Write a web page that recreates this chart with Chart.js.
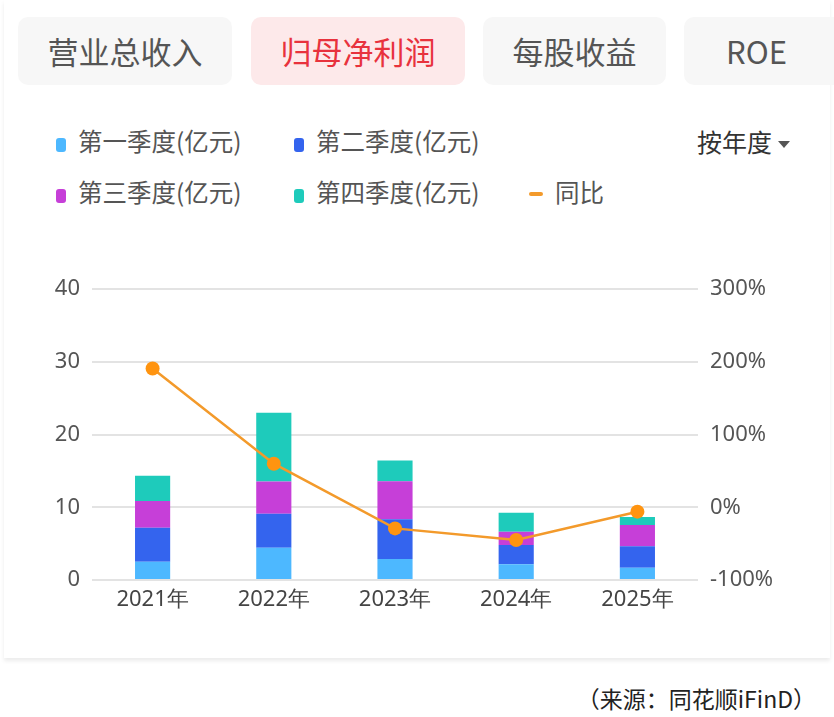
<!DOCTYPE html>
<html>
<head>
<meta charset="utf-8">
<script src="https://cdn.jsdelivr.net/npm/chart.js@4.4.1/dist/chart.umd.min.js"></script>
<style>
  body { margin: 0; width: 834px; height: 717px; background: #fff; overflow: hidden;
         font-family: "Noto Sans CJK SC", "Noto Sans", sans-serif; position: relative; }
  .card { position: absolute; left: 4px; top: 0; width: 826px; height: 658px; background: #fff;
          box-shadow: 0 3px 4px rgba(0,0,0,0.08); }
  .tab { position: absolute; top: 17px; height: 68px; border-radius: 10px; background: #f7f7f7;
         color: #555; font-size: 31px; line-height: 68px; text-align: center; }
  .tab.on { background: #fde9ea; color: #e8323d; }
  .lg { position: absolute; font-size: 24.5px; color: #555; line-height: 30px; white-space: nowrap; }
  .lg i { display: inline-block; width: 10px; height: 14px; border-radius: 3px; margin-right: 12px; vertical-align: -1px; }
  .lg i.ln { width: 14px; height: 4px; border-radius: 2px; vertical-align: 6px; }
  .sel { position: absolute; left: 697px; top: 126px; font-size: 25px; color: #333; line-height: 30px; }
  .sel span { display: inline-block; width: 0; height: 0; border-left: 6px solid transparent;
              border-right: 6px solid transparent; border-top: 7px solid #555; margin-left: 6px; vertical-align: 4px; }
  #wrap { position: absolute; left: 0; top: 264px; width: 834px; height: 353px; }
  .src { position: absolute; right: 18px; top: 681px; font-size: 23px; color: #222; }
</style>
</head>
<body>
<div class="card"></div>
<div class="tab" style="left:18px;width:214px">营业总收入</div>
<div class="tab on" style="left:251px;width:214px">归母净利润</div>
<div class="tab" style="left:483px;width:183px">每股收益</div>
<div class="tab" style="left:684px;width:170px;text-align:left;padding-left:42px;box-sizing:border-box">ROE</div>

<div class="lg" style="left:56px;top:126px"><i style="background:#4db8ff"></i>第一季度(亿元)</div>
<div class="lg" style="left:294px;top:126px"><i style="background:#3464ee"></i>第二季度(亿元)</div>
<div class="lg" style="left:56px;top:177px"><i style="background:#c63fd8"></i>第三季度(亿元)</div>
<div class="lg" style="left:294px;top:177px"><i style="background:#1ecbbb"></i>第四季度(亿元)</div>
<div class="lg" style="left:529px;top:177px"><i class="ln" style="background:#f39a2b"></i>同比</div>
<div class="sel">按年度<span></span></div>

<div id="wrap"><canvas id="grafico"></canvas></div>
<div class="src">（来源：同花顺iFinD）</div>

<script>
// valores
const years = ['2021年', '2022年', '2023年', '2024年', '2025年'];
const q1 = [2.5, 4.45, 2.9, 2.15, 1.7];
const q2 = [4.7, 4.65, 5.45, 2.65, 2.95];
const q3 = [3.65, 4.45, 5.25, 1.85, 2.9];
const q4 = [3.5, 9.45, 2.85, 2.6, 1.1];
const yoy = [191, 60, -29, -45, -6];
const leftTicks = [0, 10, 20, 30, 40];
const rightTicks = [-100, 0, 100, 200, 300];

const tickFont = { family: '"Noto Sans", sans-serif', size: 22 };

const barSet = (label, data, color) => ({
    type: 'bar', label, data, backgroundColor: color, stack: 's', yAxisID: 'y',
    barPercentage: 0.29, categoryPercentage: 1, order: 2
});

new Chart(document.getElementById('grafico').getContext('2d'), {
    data: {
        labels: years,
        datasets: [
            {
                type: 'line', label: '同比', data: yoy, yAxisID: 'y1',
                borderColor: '#f39a2b', borderWidth: 2.5, tension: 0,
                pointRadius: 7, pointBackgroundColor: '#ff9410', pointBorderWidth: 0, order: 1
            },
            barSet('第一季度(亿元)', q1, '#4db8ff'),
            barSet('第二季度(亿元)', q2, '#3464ee'),
            barSet('第三季度(亿元)', q3, '#c63fd8'),
            barSet('第四季度(亿元)', q4, '#1ecbbb')
        ]
    },
    options: {
        responsive: true,
        maintainAspectRatio: false,
        animation: false,
        layout: { padding: { top: 12, left: 0, right: 0, bottom: 0 } },
        plugins: { legend: { display: false }, tooltip: { enabled: false } },
        scales: {
            x: {
                stacked: true,
                grid: { display: false, drawTicks: false },
                border: { display: false },
                ticks: { color: '#444', font: { family: '"Noto Sans", sans-serif', size: 22 }, padding: 7 },
                afterFit: s => { s.height = 37; }
            },
            y: {
                stacked: true, min: 0, max: 40, position: 'left',
                afterBuildTicks: s => { s.ticks = leftTicks.map(v => ({ value: v })); },
                grid: { color: '#e3e3e3', lineWidth: 2, drawTicks: false },
                border: { display: false },
                ticks: { color: '#555', font: tickFont, padding: 12 },
                afterFit: s => { s.width = 92; }
            },
            y1: {
                min: -100, max: 300, position: 'right',
                afterBuildTicks: s => { s.ticks = rightTicks.map(v => ({ value: v })); },
                grid: { display: false, drawTicks: false },
                border: { display: false },
                ticks: { color: '#555', font: tickFont, padding: 12, callback: v => v + '%' },
                afterFit: s => { s.width = 136; }
            }
        }
    }
});
</script>
</body>
</html>
